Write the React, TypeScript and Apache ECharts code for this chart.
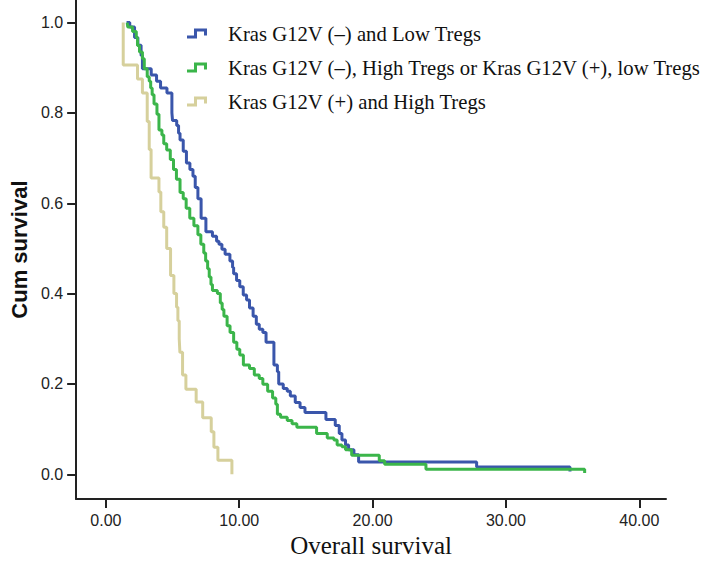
import React, { useEffect, useRef } from "react";
import * as echarts from "echarts";

const seriesNames = [
  "Kras G12V (–) and Low Tregs",
  "Kras G12V (–), High Tregs or Kras G12V (+), low Tregs",
  "Kras G12V (+) and High Tregs",
];
const seriesColors = ["#3a56ab", "#3bb54a", "#d6d09c"];

const xTicks = [0, 10, 20, 30, 40];
const yTicks = [0, 0.2, 0.4, 0.6, 0.8, 1.0];

const blueTimes = [
  1.55, 1.79, 2.15, 2.4, 2.64, 2.74, 3.4, 3.8, 4.1, 4.58, 4.95, 5.0, 5.31, 5.45, 5.56, 5.8,
  6.04, 6.3, 6.53, 6.7, 6.9, 7.14, 7.5, 7.99, 8.3, 8.48, 8.7, 8.94, 9.3, 9.5, 9.58, 9.8,
  10.04, 10.3, 10.55, 10.77, 11.04, 11.28, 11.5, 11.77, 12.01, 12.6, 12.86, 12.96, 13.3,
  13.6, 13.83, 14.2, 14.56, 14.93, 16.5, 17.2, 17.5, 17.7, 17.97, 18.2, 18.6, 18.95, 27.8,
  34.8, 34.8,
];
const blueSurv = [
  1.0, 0.99, 0.967, 0.95, 0.927, 0.898, 0.884, 0.87, 0.855, 0.844, 0.8, 0.783, 0.772, 0.755,
  0.74, 0.715, 0.689, 0.675, 0.66, 0.635, 0.61, 0.567, 0.537, 0.527, 0.516, 0.509, 0.498,
  0.487, 0.472, 0.458, 0.444, 0.429, 0.415, 0.397, 0.386, 0.368, 0.35, 0.332, 0.321, 0.314,
  0.292, 0.242, 0.227, 0.2, 0.19, 0.184, 0.173, 0.159, 0.148, 0.137, 0.121, 0.108, 0.09,
  0.076, 0.065, 0.054, 0.043, 0.027, 0.016, 0.016, 0.006,
];

const greenTimes = [
  1.6, 1.64, 2.0, 2.28, 2.37, 2.52, 2.74, 2.88, 3.1, 3.25, 3.36, 3.47, 3.61, 3.83, 3.98, 4.2,
  4.34, 4.56, 4.83, 5.07, 5.29, 5.56, 5.8, 6.02, 6.29, 6.6, 6.9, 7.12, 7.34, 7.48, 7.63, 7.75,
  7.88, 7.99, 8.36, 8.58, 8.72, 8.85, 9.09, 9.31, 9.58, 9.82, 10.04, 10.31, 10.77, 11.13,
  11.5, 11.77, 12.13, 12.5, 12.74, 12.86, 13.1, 13.6, 13.96, 14.32, 15.8, 16.6, 17.1, 17.34,
  17.7, 17.97, 18.43, 20.5, 20.9, 24.0, 35.9, 35.9,
];
const greenSurv = [
  1.0, 0.99, 0.98, 0.967, 0.949, 0.935, 0.92, 0.898, 0.88, 0.87, 0.855, 0.84, 0.82, 0.797,
  0.762, 0.751, 0.732, 0.718, 0.697, 0.675, 0.653, 0.624, 0.61, 0.589, 0.567, 0.55, 0.53,
  0.509, 0.49, 0.472, 0.455, 0.437, 0.42, 0.407, 0.4, 0.379, 0.365, 0.35, 0.329, 0.314,
  0.292, 0.277, 0.264, 0.242, 0.234, 0.22, 0.212, 0.199, 0.184, 0.169, 0.155, 0.133, 0.126,
  0.119, 0.112, 0.104, 0.09, 0.08, 0.076, 0.065, 0.061, 0.054, 0.042, 0.03, 0.022, 0.011,
  0.011, 0.003,
];

const tanTimes = [
  1.3, 1.3, 2.37, 2.74, 3.1, 3.25, 3.39, 3.98, 4.12, 4.34, 4.56, 4.85, 5.1, 5.3, 5.4, 5.5,
  5.55, 5.75, 6.0, 6.77, 7.26, 7.9, 8.1, 8.4, 9.45,
];
const tanSurv = [
  1.0, 0.906, 0.875, 0.844, 0.781, 0.719, 0.656, 0.625, 0.581, 0.547, 0.5, 0.44, 0.4, 0.37,
  0.34, 0.3, 0.27, 0.22, 0.188, 0.16, 0.125, 0.094, 0.06, 0.031, 0.0,
];

const groups = [
  { times: blueTimes, surv: blueSurv },
  { times: greenTimes, surv: greenSurv },
  { times: tanTimes, surv: tanSurv },
];

const legendIcon =
  "path://M0,7H10V10H0Z M7,0H10V10H7Z M7,0H20V3H7Z M17,0H20V7H17Z";

export default function App() {
  const ref = useRef<HTMLDivElement>(null);
  useEffect(() => {
    if (!ref.current) return;
    const chart = echarts.init(ref.current, undefined, { renderer: "svg" });
    const sans = "'Liberation Sans', Arial, sans-serif";
    const serif = "'Liberation Serif', 'Times New Roman', serif";
    chart.setOption({
      animation: false,
      backgroundColor: "#ffffff",
      grid: { left: 60, right: 43, top: 0, bottom: 53 },
      legend: {
        orient: "vertical",
        left: 182,
        top: 18,
        itemWidth: 20,
        itemHeight: 10,
        itemGap: 13,
        data: seriesNames.map((n) => ({ name: n, icon: legendIcon })),
        textStyle: {
          fontFamily: serif,
          fontSize: 20.7,
          color: "#111",
          lineHeight: 20,
          padding: [0, 0, 0, 16],
        },
      },
      xAxis: {
        type: "value",
        min: -2.23,
        max: 42.0,
        name: "Overall survival",
        nameLocation: "middle",
        nameGap: 27,
        nameTextStyle: { fontFamily: serif, fontSize: 25, color: "#111" },
        splitLine: { show: false },
        axisLine: { show: true, onZero: false, lineStyle: { color: "#222", width: 2 } },
        axisTick: {
          show: true,
          length: 9,
          lineStyle: { color: "#222", width: 2 },
          customValues: xTicks,
        },
        axisLabel: {
          fontFamily: sans,
          fontSize: 16,
          color: "#222",
          margin: 13,
          customValues: xTicks,
          formatter: (v: number) => v.toFixed(2),
        },
      },
      yAxis: {
        type: "value",
        min: -0.055,
        max: 1.05,
        name: "Cum survival",
        nameLocation: "middle",
        nameGap: 40,
        nameTextStyle: { fontFamily: sans, fontSize: 22, fontWeight: "bold", color: "#111" },
        splitLine: { show: false },
        axisLine: { show: true, onZero: false, lineStyle: { color: "#222", width: 2 } },
        axisTick: {
          show: true,
          length: 9,
          lineStyle: { color: "#222", width: 2 },
          customValues: yTicks,
        },
        axisLabel: {
          fontFamily: sans,
          fontSize: 16,
          color: "#222",
          margin: 13,
          customValues: yTicks,
          formatter: (v: number) => v.toFixed(1),
        },
      },
      series: groups.map((g, i) => ({
        name: seriesNames[i],
        type: "line",
        step: "end",
        showSymbol: false,
        symbol: "none",
        color: seriesColors[i],
        lineStyle: { color: seriesColors[i], width: 3 },
        data: g.times.map((t, k) => [t, g.surv[k]]),
      })),
    });
    return () => chart.dispose();
  }, []);
  return (
    <div
      ref={ref}
      style={{ position: "fixed", left: 0, top: 0, width: 709, height: 563, background: "#fff" }}
    />
  );
}
